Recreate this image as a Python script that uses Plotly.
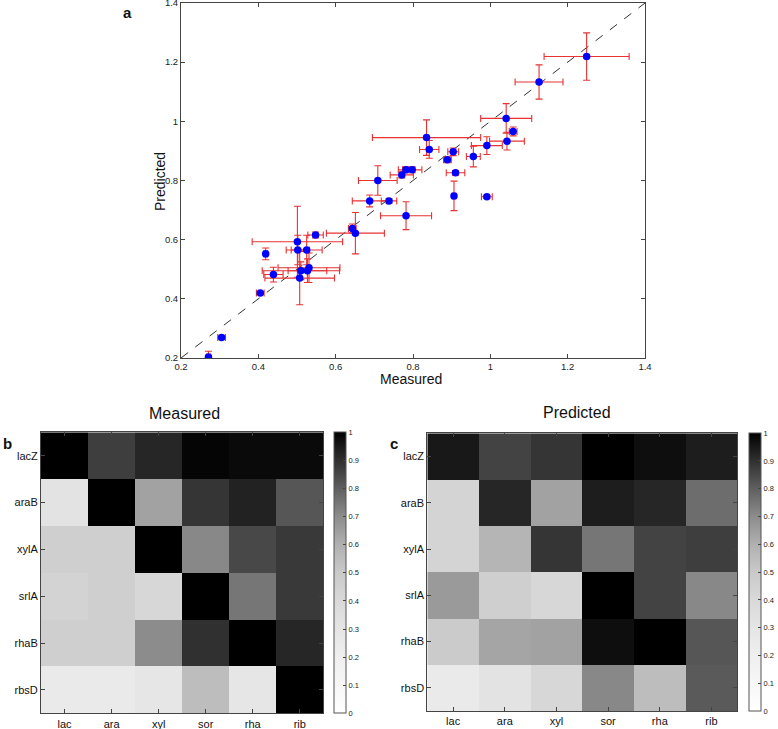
import plotly.graph_objects as go

W, H = 778, 729

# ---- panel a data ----
measured = [1.249, 1.126, 1.041, 1.059, 1.043, 0.991, 0.956, 0.904, 0.889, 0.910,
            0.835, 0.842, 0.798, 0.782, 0.771, 0.709, 0.906, 0.991, 0.738, 0.782,
            0.688, 0.643, 0.651, 0.548, 0.501, 0.502, 0.525, 0.419, 0.439, 0.510,
            0.531, 0.527, 0.507, 0.405, 0.305, 0.271]
predicted = [1.219, 1.133, 1.010, 0.966, 0.933, 0.918, 0.881, 0.897, 0.870, 0.826,
             0.945, 0.905, 0.836, 0.836, 0.819, 0.800, 0.748, 0.745, 0.731, 0.681,
             0.731, 0.638, 0.622, 0.616, 0.593, 0.565, 0.565, 0.552, 0.482, 0.495,
             0.505, 0.495, 0.470, 0.420, 0.269, 0.203]
measured_err = [0.110, 0.062, 0.066, 0.010, 0.045, 0.040, 0.018, 0.014, 0.010, 0.024,
                0.140, 0.025, 0.025, 0.020, 0.030, 0.050, 0.005, 0.014, 0.020, 0.066,
                0.045, 0.010, 0.075, 0.020, 0.117, 0.030, 0.040, 0.005, 0.025, 0.100,
                0.080, 0.050, 0.090, 0.010, 0.010, 0.005]
predicted_err = [0.080, 0.058, 0.050, 0.015, 0.030, 0.030, 0.035, 0.013, 0.010, 0.008,
                 0.060, 0.030, 0.010, 0.010, 0.010, 0.050, 0.050, 0.005, 0.008, 0.047,
                 0.020, 0.015, 0.070, 0.010, 0.120, 0.050, 0.050, 0.020, 0.025, 0.030,
                 0.050, 0.040, 0.090, 0.005, 0.005, 0.020]
identity_line = [0.2, 1.4]
scatter_ticks = [0.2, 0.4, 0.6, 0.8, 1, 1.2, 1.4]

# ---- panels b, c data ----
sugars = ["lac", "ara", "xyl", "sor", "rha", "rib"]
genes = ["lacZ", "araB", "xylA", "srlA", "rhaB", "rbsD"]
measured_matrix = [
    [1.00, 0.87, 0.92, 0.99, 0.98, 0.98],
    [0.32, 1.00, 0.64, 0.89, 0.93, 0.82],
    [0.46, 0.46, 1.00, 0.71, 0.85, 0.88],
    [0.44, 0.46, 0.41, 1.00, 0.75, 0.88],
    [0.46, 0.46, 0.70, 0.90, 1.00, 0.92],
    [0.25, 0.25, 0.29, 0.55, 0.29, 1.00],
]
predicted_matrix = [
    [0.95, 0.86, 0.89, 1.00, 0.97, 0.94],
    [0.43, 0.92, 0.64, 0.94, 0.92, 0.77],
    [0.43, 0.58, 0.89, 0.75, 0.86, 0.87],
    [0.66, 0.46, 0.41, 1.00, 0.86, 0.71],
    [0.49, 0.63, 0.64, 0.97, 1.00, 0.82],
    [0.25, 0.32, 0.41, 0.71, 0.55, 0.81],
]
cbar_ticks = [0, 0.1, 0.2, 0.3, 0.4, 0.5, 0.6, 0.7, 0.8, 0.9, 1]

gray_scale = [
    [0.0, "#ffffff"], [0.1, "#f7f7f7"], [0.2, "#efefef"], [0.3, "#e5e5e5"],
    [0.4, "#d9d9d9"], [0.5, "#c9c9c9"], [0.6, "#b0b0b0"], [0.7, "#8c8c8c"],
    [0.8, "#5f5f5f"], [0.9, "#303030"], [1.0, "#000000"],
]

FONT = "Arial, Liberation Sans, sans-serif"

def px(x):
    return x / W

def py(y):
    return 1 - y / H

fig = go.Figure()

fig.add_trace(go.Scatter(
    x=measured, y=predicted, mode="markers",
    marker=dict(color="#0000ff", size=7.5, line=dict(width=0)),
    error_x=dict(type="data", array=measured_err, color="rgb(232,50,50)", thickness=1.1, width=3.5),
    error_y=dict(type="data", array=predicted_err, color="rgb(232,50,50)", thickness=1.1, width=3.5),
    xaxis="x", yaxis="y", showlegend=False, hoverinfo="skip",
))

fig.add_shape(type="line", xref="x", yref="y",
              x0=identity_line[0], y0=identity_line[0], x1=identity_line[1], y1=identity_line[1],
              line=dict(color="#333333", width=1, dash="dash"), layer="below")

def cbar(x_left, y_top, y_bot):
    return dict(x=px(x_left), xanchor="left", y=py((y_top + y_bot) / 2), yanchor="middle",
                len=(y_bot - y_top) / H, lenmode="fraction", thickness=11.5, thicknessmode="pixels",
                tickvals=cbar_ticks, ticks="inside", ticklen=3, tickcolor="#444",
                outlinecolor="#555", outlinewidth=1,
                tickfont=dict(size=7.5, family=FONT, color="#222"),
                xpad=0, ypad=0)

fig.add_trace(go.Heatmap(
    z=measured_matrix, x=sugars, y=genes, colorscale=gray_scale, zmin=0, zmax=1,
    xaxis="x2", yaxis="y2", colorbar=cbar(333.5, 432.3, 713.3), hoverinfo="skip",
))
fig.add_trace(go.Heatmap(
    z=predicted_matrix, x=sugars, y=genes, colorscale=gray_scale, zmin=0, zmax=1,
    xaxis="x3", yaxis="y3", colorbar=cbar(749, 433.3, 711), hoverinfo="skip",
))

axis_common = dict(showgrid=False, zeroline=False, showline=True, linecolor="#444", linewidth=1,
                   mirror="ticks", ticks="inside", ticklen=4, tickcolor="#444", automargin=False,
                   ticklabeloverflow="allow")
sc_font = dict(size=9.5, family=FONT, color="#222")
hm_font = dict(size=11, family=FONT, color="#111")

fig.update_layout(
    width=W, height=H, margin=dict(l=0, r=0, t=0, b=0, autoexpand=False),
    paper_bgcolor="white", plot_bgcolor="white",
    font=dict(family=FONT, color="#111"),
    xaxis=dict(domain=[px(181), px(645)], range=[0.19999, 1.40001], tickvals=scatter_ticks,
               anchor="y", tickfont=sc_font, **axis_common),
    yaxis=dict(domain=[py(358), py(3)], range=[0.19999, 1.40001], tickvals=scatter_ticks,
               anchor="x", tickfont=sc_font, **axis_common),
    xaxis2=dict(domain=[px(41), px(323.3)], anchor="y2", tickfont=hm_font, **axis_common),
    yaxis2=dict(domain=[py(713.3), py(432.3)], anchor="x2", autorange="reversed",
                tickfont=hm_font, **axis_common),
    xaxis3=dict(domain=[px(427.3), px(737.3)], anchor="y3", tickfont=hm_font, **axis_common),
    yaxis3=dict(domain=[py(711), py(433.3)], anchor="x3", autorange="reversed",
                tickfont=hm_font, **axis_common),
)

annots = [
    dict(text="Measured", x=px(411), y=py(379), font=dict(size=14)),
    dict(text="Predicted", x=px(160), y=py(182), font=dict(size=14), textangle=-90),
    dict(text="<b>a</b>", x=px(128), y=py(13), font=dict(size=15)),
    dict(text="Measured", x=px(184), y=py(413), font=dict(size=16)),
    dict(text="Predicted", x=px(577), y=py(412), font=dict(size=16)),
    dict(text="<b>b</b>", x=px(7), y=py(443), font=dict(size=15)),
    dict(text="<b>c</b>", x=px(394), y=py(443), font=dict(size=15)),
]
for a in annots:
    fig.add_annotation(xref="paper", yref="paper", showarrow=False,
                       xanchor="center", yanchor="middle", **a)

fig.write_html("out.html", config={"displayModeBar": False},
               post_script="document.body.style.margin='0';document.body.style.padding='0';document.body.style.overflow='hidden';")
